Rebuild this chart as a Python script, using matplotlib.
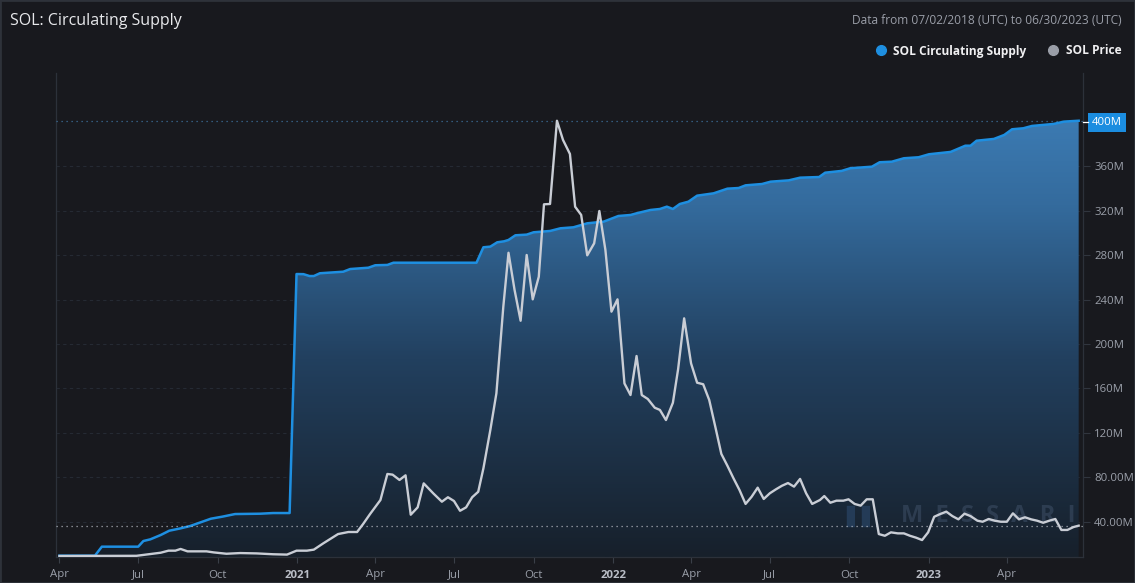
import matplotlib
matplotlib.use("Agg")
import matplotlib.pyplot as plt
import matplotlib.dates as mdates
from matplotlib.colors import LinearSegmentedColormap
from matplotlib.lines import Line2D
import numpy as np
import pandas as pd

# ---------------- data ----------------
supply_dates = [
    "2020-04-01", "2020-05-12", "2020-05-20", "2020-07-01", "2020-07-07", "2020-07-15",
    "2020-07-27", "2020-08-06", "2020-08-19", "2020-08-30", "2020-09-11", "2020-09-23",
    "2020-10-06", "2020-10-21", "2020-11-19", "2020-12-04", "2020-12-23", "2020-12-31",
    "2021-01-08", "2021-01-15", "2021-01-20", "2021-01-27", "2021-02-23", "2021-03-03",
    "2021-03-24", "2021-04-01", "2021-04-15", "2021-04-22", "2021-07-27", "2021-08-04",
    "2021-08-12", "2021-08-20", "2021-08-28", "2021-09-02", "2021-09-10", "2021-09-23",
    "2021-10-01", "2021-10-20", "2021-11-01", "2021-11-16", "2021-12-02", "2021-12-21",
    "2022-01-07", "2022-01-21", "2022-01-28", "2022-02-13", "2022-02-24", "2022-03-04",
    "2022-03-11", "2022-03-19", "2022-03-29", "2022-04-08", "2022-04-27", "2022-05-13",
    "2022-05-26", "2022-06-03", "2022-06-22", "2022-07-02", "2022-07-23", "2022-08-05",
    "2022-08-27", "2022-09-03", "2022-09-22", "2022-10-02", "2022-10-27", "2022-11-05",
    "2022-11-19", "2022-12-03", "2022-12-20", "2023-01-01", "2023-01-26", "2023-02-12",
    "2023-02-18", "2023-02-25", "2023-03-17", "2023-03-29", "2023-04-07", "2023-04-20",
    "2023-04-30", "2023-05-25", "2023-06-06", "2023-06-23",
]
supply_m = [
    9.4, 9.4, 17.5, 17.5, 22.6, 24.1,
    28.0, 31.9, 34.0, 36.1, 39.4, 42.7,
    44.5, 46.9, 47.2, 47.8, 47.8, 263.1,
    263.0, 261.3, 261.3, 263.8, 265.2, 267.6,
    268.8, 271.0, 271.3, 273.3, 273.3, 287.2,
    287.8, 291.7, 292.6, 293.8, 298.0, 298.6,
    300.7, 301.9, 304.3, 305.2, 308.8, 310.3,
    315.4, 316.3, 317.8, 320.8, 321.7, 323.8,
    321.7, 326.2, 328.3, 333.7, 335.8, 340.0,
    340.6, 343.0, 344.2, 346.3, 347.5, 349.9,
    350.5, 354.4, 356.0, 358.4, 359.8, 363.8,
    364.3, 367.4, 368.3, 371.0, 373.1, 378.7,
    378.7, 383.2, 384.8, 388.4, 393.5, 394.4,
    396.5, 398.3, 400.4, 401.2,
]

price_dates = [
    "2020-04-01", "2020-06-29", "2020-07-15", "2020-07-27", "2020-08-05", "2020-08-13",
    "2020-08-19", "2020-08-27", "2020-09-18", "2020-09-26", "2020-10-11", "2020-10-27",
    "2020-11-15", "2020-12-04", "2020-12-20", "2020-12-31", "2021-01-12", "2021-01-20",
    "2021-01-31", "2021-02-17", "2021-03-01", "2021-03-11", "2021-03-18", "2021-03-26",
    "2021-04-07", "2021-04-15", "2021-04-21", "2021-04-29", "2021-05-06", "2021-05-12",
    "2021-05-20", "2021-05-27", "2021-06-07", "2021-06-17", "2021-06-24", "2021-07-01",
    "2021-07-08", "2021-07-15", "2021-07-22", "2021-07-29", "2021-08-04", "2021-08-12",
    "2021-08-19", "2021-08-27", "2021-09-02", "2021-09-09", "2021-09-16", "2021-09-23",
    "2021-09-30", "2021-10-07", "2021-10-13", "2021-10-20", "2021-10-28", "2021-11-04",
    "2021-11-12", "2021-11-18", "2021-11-25", "2021-12-02", "2021-12-10", "2021-12-16",
    "2021-12-23", "2021-12-30", "2022-01-06", "2022-01-14", "2022-01-21", "2022-01-28",
    "2022-02-03", "2022-02-10", "2022-02-18", "2022-02-24", "2022-03-03", "2022-03-11",
    "2022-03-17", "2022-03-24", "2022-04-01", "2022-04-08", "2022-04-15", "2022-04-22",
    "2022-04-29", "2022-05-06", "2022-05-13", "2022-05-20", "2022-05-27", "2022-06-03",
    "2022-06-10", "2022-06-17", "2022-06-24", "2022-07-01", "2022-07-08", "2022-07-15",
    "2022-07-22", "2022-07-29", "2022-08-05", "2022-08-12", "2022-08-19", "2022-08-28",
    "2022-09-02", "2022-09-09", "2022-09-16", "2022-09-24", "2022-09-30", "2022-10-07",
    "2022-10-14", "2022-10-21", "2022-10-28", "2022-11-04", "2022-11-11", "2022-11-18",
    "2022-11-26", "2022-12-03", "2022-12-10", "2022-12-17", "2022-12-24", "2022-12-31",
    "2023-01-07", "2023-01-14", "2023-01-21", "2023-01-28", "2023-02-04", "2023-02-11",
    "2023-02-18", "2023-02-26", "2023-03-04", "2023-03-11", "2023-03-18", "2023-03-25",
    "2023-04-01", "2023-04-08", "2023-04-15", "2023-04-22", "2023-04-29", "2023-05-06",
    "2023-05-13", "2023-05-20", "2023-05-27", "2023-06-03", "2023-06-10", "2023-06-17",
    "2023-06-23",
]
price_usd = [
    0.9, 1.0, 2.0, 2.8, 4.0, 4.0,
    5.0, 3.6, 3.6, 3.0, 2.2, 2.6,
    2.4, 1.9, 1.7, 4.0, 4.0, 4.6,
    8.3, 13.7, 14.9, 14.9, 19.6, 25.4,
    33.6, 48.8, 48.4, 45.3, 48.0, 25.0,
    29.3, 43.3, 37.5, 32.6, 35.2, 33.0,
    27.3, 29.3, 35.2, 38.4, 52.1, 74.5,
    95.9, 146.5, 178.0, 156.3, 138.3, 176.7,
    150.8, 164.0, 206.3, 206.5, 255.1, 243.9,
    235.7, 204.9, 200.1, 176.5, 183.5, 202.4,
    179.6, 143.6, 150.8, 101.7, 94.9, 117.7,
    94.9, 92.6, 87.5, 86.2, 80.3, 90.4,
    109.9, 139.7, 113.4, 102.1, 101.2, 92.0,
    76.4, 60.5, 53.6, 46.3, 39.4, 31.3,
    35.5, 40.8, 34.2, 37.5, 39.8, 41.9,
    43.5, 41.4, 45.9, 37.5, 31.3, 33.6,
    35.9, 32.0, 33.2, 33.2, 34.0, 31.3,
    30.3, 34.0, 34.0, 13.7, 12.7, 14.7,
    14.1, 14.1, 12.7, 11.6, 10.2, 14.7,
    23.8, 25.4, 26.8, 24.2, 22.3, 25.6,
    24.2, 21.5, 20.9, 22.5, 21.5, 20.9,
    20.9, 25.8, 22.3, 23.5, 22.3, 21.5,
    20.3, 21.5, 22.5, 16.1, 16.1, 17.8,
    18.6,
]

supply_ticks = [40, 80, 120, 160, 200, 240, 280, 320, 360, 400]
supply_tick_labels = ["40.00M", "80.00M", "120M", "160M", "200M", "240M",
                      "280M", "320M", "360M", "400M"]

title = "SOL: Circulating Supply"
subtitle = "Data from 07/02/2018 (UTC) to 06/30/2023 (UTC)"
legend_labels = ["SOL Circulating Supply", "SOL Price"]
watermark = "M  E  S  S  A  R  I"

# ---------------- style ----------------
BG = "#18191e"
BLUE = "#1e8fe1"
PRICE_C = "#c9cdd5"
TICK_C = "#9ba0aa"
GRID_C = "#252a33"

W, H = 1135, 583
fig = plt.figure(figsize=(W / 100, H / 100), dpi=100, facecolor=BG)
plt.rcParams["font.family"] = ["Open Sans", "DejaVu Sans"]

L, R, T, B = 56, 1083, 73, 557
ax = fig.add_axes([L / W, (H - B) / H, (R - L) / W, (B - T) / H])
ax.set_facecolor(BG)

sd = pd.to_datetime(supply_dates)
pdts = pd.to_datetime(price_dates)
sv = np.array(supply_m)
pv = np.array(price_usd)

x0 = mdates.date2num(pd.Timestamp("2020-03-28"))
x1 = mdates.date2num(pd.Timestamp("2023-06-28"))
y0s, y1s = 8.2, 444.2

# gradient fill under supply
sx = mdates.date2num(sd)
poly = ax.fill_between(sx, sv, y0s, color="none", lw=0)
cmap = LinearSegmentedColormap.from_list(
    "g", [(0.0, "#17202b"), (0.45, "#22405f"), (0.8, "#346b9d"), (1.0, "#3c7bb3")])
grad = np.linspace(0, 1, 256).reshape(-1, 1)
im = ax.imshow(grad, aspect="auto", cmap=cmap, origin="lower",
               extent=[x0, x1, y0s, 405], zorder=1, interpolation="bilinear")
im.set_clip_path(poly.get_paths()[0], transform=ax.transData)
ax.set_xlim(x0, x1)
ax.set_ylim(y0s, y1s)

# grid
for t in supply_ticks[:-1]:
    ax.axhline(t, color=GRID_C, lw=0.8, ls=(0, (3, 3)), zorder=0.5)

ax.plot(sx, sv, color=BLUE, lw=1.8, zorder=4, solid_joinstyle="round")

# price on twin axis
ax2 = ax.twinx()
ax2.set_ylim(0.3, 283)
ax2.plot(mdates.date2num(pdts), pv, color=PRICE_C, lw=1.7, zorder=5,
         solid_joinstyle="round")
ax2.axhline(pv[-1], color="#c8ccd4", lw=0.9, ls=(0, (1, 3)), alpha=0.8)
ax2.set_yticks([])
for s in ax2.spines.values():
    s.set_visible(False)

# last value line for supply
ax.axhline(sv[-1], color="#3c6f9a", lw=0.9, ls=(0, (1, 3)), zorder=3)

# axes cosmetics
ax.yaxis.tick_right()
ax.set_yticks(supply_ticks)
ax.set_yticklabels(supply_tick_labels[:-1] + [""])
ax.tick_params(axis="y", colors="#30353e", labelcolor=TICK_C, labelsize=8.2,
               length=5, width=0.8, pad=3)
ax.spines["top"].set_visible(False)
for s in ["left", "right", "bottom"]:
    ax.spines[s].set_color("#2c313a")
    ax.spines[s].set_linewidth(0.9)

# x ticks: quarters
xt = pd.date_range("2020-04-01", "2023-04-01", freq="QS")
ax.set_xticks(mdates.date2num(xt))
labels = [str(d.year) if d.month == 1 else d.strftime("%b") for d in xt]
ax.set_xticklabels(labels)
ax.tick_params(axis="x", colors="#3a3f48", labelcolor=TICK_C, labelsize=8.2,
               length=4, width=0.8, pad=5)
for lbl, d in zip(ax.get_xticklabels(), xt):
    if d.month == 1:
        lbl.set_fontweight("bold")
        lbl.set_color("#b9bdc6")

# 400M highlighted label (box starting at the axis edge)
ax.text(1.0 + 9 / (R - L), supply_ticks[-1], supply_tick_labels[-1],
        transform=ax.get_yaxis_transform(), ha="left", va="center",
        color="white", fontsize=8.2, zorder=10,
        bbox=dict(boxstyle="square,pad=0.35", fc="#1b8de0", ec="none"))
ax.plot([1.0, 1.0 + 5 / (R - L)], [supply_ticks[-1]] * 2, color="white", lw=0.9,
        transform=ax.get_yaxis_transform(), clip_on=False, zorder=11)

# watermark (logo block + wordmark)
ax.text(0.993, 0.085, watermark, transform=ax.transAxes, ha="right",
        va="center", color="#3b4c63", alpha=0.6, fontsize=17, fontweight="bold",
        zorder=2)
ax.text(0.785, 0.085, "\u258c\u258c", transform=ax.transAxes, ha="center",
        va="center", color="#2c4a6e", alpha=0.6, fontsize=15, zorder=2)

# titles
fig.text(10 / W, 1 - 21 / H, title, color="#e8e9ec", fontsize=11.5,
         ha="left", va="center")
fig.text(1122 / W, 1 - 21 / H, subtitle, color="#9a9ea8", fontsize=8.6,
         ha="right", va="center")

# legend
fig.text(1122 / W, 1 - 51 / H, legend_labels[1], color="#f0f0f2", fontsize=8.6,
         fontweight="bold", ha="right", va="center")
fig.text(1026 / W, 1 - 51 / H, legend_labels[0], color="#f0f0f2", fontsize=8.6,
         fontweight="bold", ha="right", va="center")
fig.add_artist(Line2D([881 / W], [1 - 50 / H], marker="o", markersize=7,
                      color=BLUE, ls="none", transform=fig.transFigure))
fig.add_artist(Line2D([1053 / W], [1 - 50 / H], marker="o", markersize=7,
                      color="#9a9ea8", ls="none", transform=fig.transFigure))

# figure border
fig.add_artist(matplotlib.patches.Rectangle((0, 0), 1, 1,
               transform=fig.transFigure, fill=False, ec="#2e323a", lw=2))

fig.savefig("out.png", dpi=100, facecolor=BG)
